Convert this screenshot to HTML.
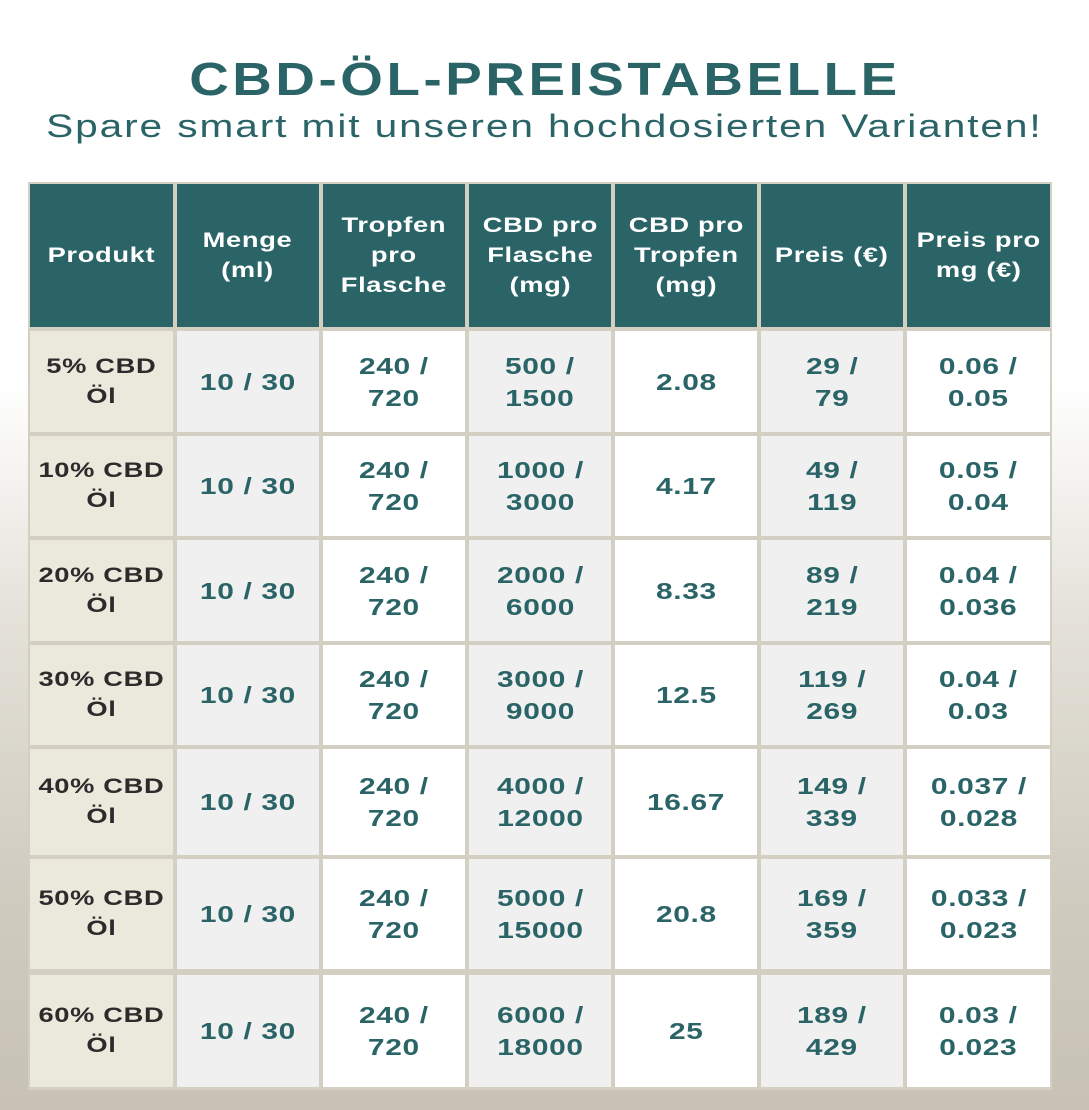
<!DOCTYPE html><html><head><meta charset="utf-8"><style>
body{margin:0;width:1089px;height:1110px;position:relative;overflow:hidden;font-family:"Liberation Sans",sans-serif;
background:linear-gradient(#fff 0,#fff 380px,#e4e1d9 620px,#cfcbbf 900px,#c7c2b5 1110px);}
.t{position:absolute;left:0;width:1089px;text-align:center;color:#2a6467}
.t span{display:inline-block}
.c{position:absolute;display:flex;align-items:center;justify-content:center;text-align:center;font-weight:bold;font-size:23px;line-height:32px;color:#2a6467;letter-spacing:0.5px}
.c div{transform:scaleX(1.3);white-space:nowrap}
.h{background:#2a6467;color:#fff;font-size:21px;line-height:30px}
.p{background:#ebe8dc;color:#2b2b2b;font-size:21px;line-height:30px}
.g{background:#f0f0f0}.w{background:#fff}
</style></head><body>
<div class="t" style="top:52px;font-size:46px;font-weight:bold;letter-spacing:3px"><span style="transform:scaleX(1.19)">CBD-ÖL-PREISTABELLE</span></div>
<div class="t" style="top:108px;font-size:32px;letter-spacing:1.5px"><span style="transform:scaleX(1.27)">Spare smart mit unseren hochdosierten Varianten!</span></div>
<div style="position:absolute;left:28px;top:182px;width:1024px;height:908px;background:#d3cfc3"></div>
<div id="tb"></div>
<script>
var X=[30,177,323,469,615,761,907],W=[143,142,142,142,142,142,143];
var Y=[[184,143],[331,101],[436,100],[540,101],[645,100],[749,106],[859,110],[975,112]];
var H=["Produkt","Menge<br>(ml)","Tropfen<br>pro<br>Flasche","CBD pro<br>Flasche<br>(mg)","CBD pro<br>Tropfen<br>(mg)","Preis (€)","Preis pro<br>mg (€)"];
var R=[["5% CBD<br>Öl","10 / 30","240 /<br>720","500 /<br>1500","2.08","29 /<br>79","0.06 /<br>0.05"],
["10% CBD<br>Öl","10 / 30","240 /<br>720","1000 /<br>3000","4.17","49 /<br>119","0.05 /<br>0.04"],
["20% CBD<br>Öl","10 / 30","240 /<br>720","2000 /<br>6000","8.33","89 /<br>219","0.04 /<br>0.036"],
["30% CBD<br>Öl","10 / 30","240 /<br>720","3000 /<br>9000","12.5","119 /<br>269","0.04 /<br>0.03"],
["40% CBD<br>Öl","10 / 30","240 /<br>720","4000 /<br>12000","16.67","149 /<br>339","0.037 /<br>0.028"],
["50% CBD<br>Öl","10 / 30","240 /<br>720","5000 /<br>15000","20.8","169 /<br>359","0.033 /<br>0.023"],
["60% CBD<br>Öl","10 / 30","240 /<br>720","6000 /<br>18000","25","189 /<br>429","0.03 /<br>0.023"]];
var s="";
for(var r=0;r<8;r++)for(var c=0;c<7;c++){var cl=r==0?"h":(c==0?"p":(c%2?"g":"w"));
var tx=r==0?H[c]:R[r-1][c];
s+='<div class="c '+cl+'" style="left:'+X[c]+'px;top:'+Y[r][0]+'px;width:'+W[c]+'px;height:'+Y[r][1]+'px">'+'<div>'+tx+'</div></div>';}
document.getElementById("tb").innerHTML=s;
</script>
</body></html>
